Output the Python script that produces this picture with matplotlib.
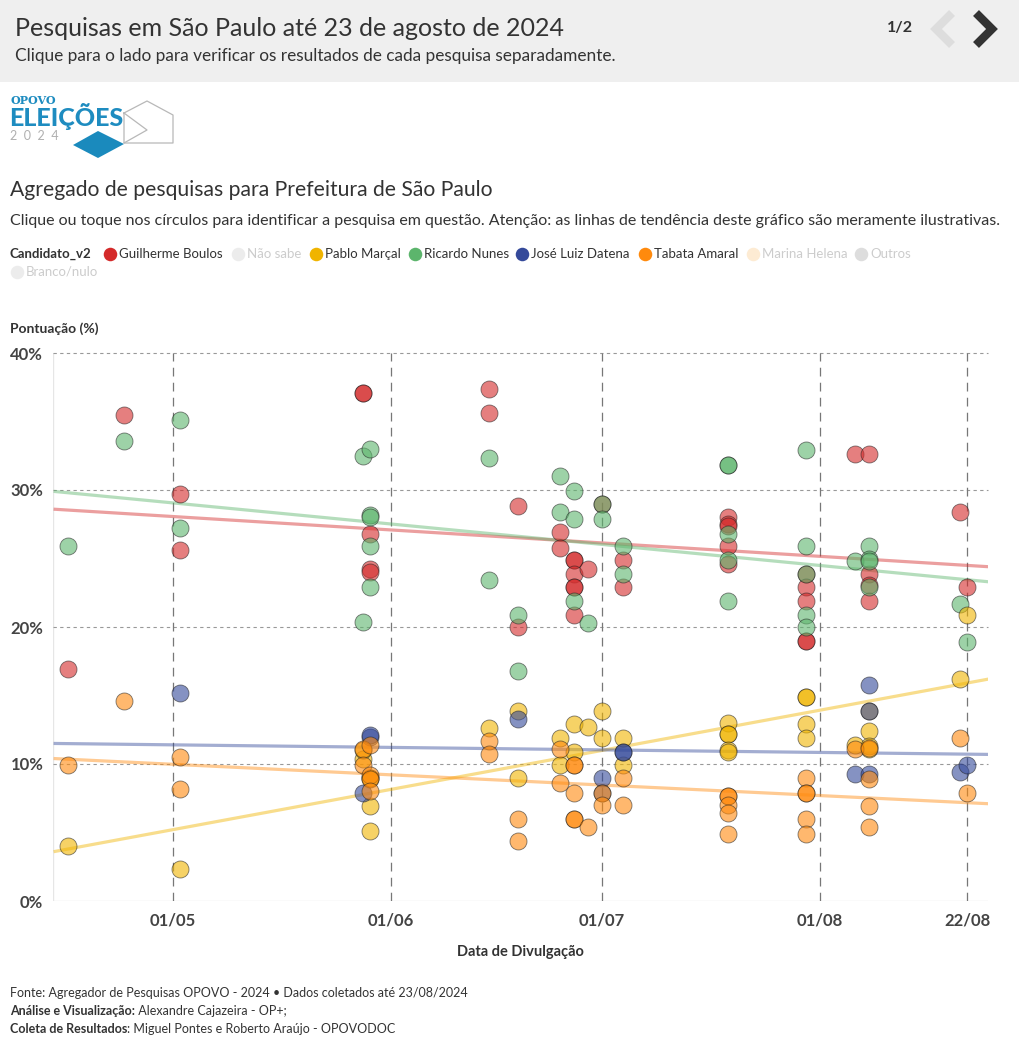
import numpy as np
import pandas as pd
import matplotlib
matplotlib.use("Agg")
import matplotlib.pyplot as plt
import matplotlib.dates as mdates
from matplotlib.patches import Polygon, Rectangle

plt.rcParams['font.family'] = ['Lato', 'DejaVu Sans']

# --- dados (data de divulgação MM-DD, pontuação %) ---
boulos_dates = ['04-16', '04-24', '05-02', '05-02', '05-28', '05-28', '05-29', '05-29', '05-29',
                '06-15', '06-15', '06-19', '06-19', '06-25', '06-25', '06-27', '06-27', '06-27',
                '06-27', '06-27', '06-27', '06-29', '07-01', '07-04', '07-04', '07-19', '07-19',
                '07-19', '07-19', '07-19', '07-30', '07-30', '07-30', '07-30', '07-30', '08-06',
                '08-08', '08-08', '08-08', '08-08', '08-21', '08-22']
boulos_vals = [16.9, 35.5, 29.7, 25.6, 37.1, 37.1, 26.8, 24.2, 24.0,
               37.4, 35.6, 28.8, 20.0, 26.9, 25.8, 24.9, 24.9, 23.9,
               22.9, 22.9, 20.9, 24.2, 29.0, 24.9, 22.9, 28.0, 27.5,
               27.4, 25.9, 24.6, 23.9, 22.9, 21.9, 19.0, 19.0, 32.6,
               32.6, 23.9, 23.1, 21.9, 28.4, 22.9]

nunes_dates = ['04-16', '04-24', '05-02', '05-02', '05-28', '05-28', '05-29', '05-29', '05-29',
               '05-29', '05-29', '06-15', '06-15', '06-19', '06-19', '06-25', '06-25', '06-27',
               '06-27', '06-27', '06-29', '07-01', '07-01', '07-04', '07-04', '07-19', '07-19',
               '07-19', '07-19', '07-19', '07-30', '07-30', '07-30', '07-30', '07-30', '08-06',
               '08-08', '08-08', '08-08', '08-08', '08-21', '08-22']
nunes_vals = [25.9, 33.6, 35.1, 27.2, 32.5, 20.4, 33.0, 28.2, 28.0,
              25.9, 22.9, 32.3, 23.4, 20.9, 16.8, 31.0, 28.4, 29.9,
              27.9, 21.9, 20.3, 29.0, 27.9, 25.9, 23.9, 31.8, 31.8,
              26.8, 24.9, 21.9, 32.9, 25.9, 23.9, 20.9, 20.0, 24.8,
              25.9, 25.0, 24.8, 22.9, 21.7, 18.9]

marcal_dates = ['04-16', '05-02', '05-28', '05-28', '05-29', '05-29', '05-29', '05-29', '06-15',
                '06-19', '06-19', '06-25', '06-25', '06-27', '06-27', '06-29', '07-01', '07-01',
                '07-04', '07-04', '07-19', '07-19', '07-19', '07-19', '07-19', '07-30', '07-30',
                '07-30', '07-30', '08-06', '08-08', '08-08', '08-08', '08-08', '08-21', '08-22']
marcal_vals = [4.0, 2.3, 10.4, 11.0, 9.0, 9.0, 6.9, 5.1, 12.6,
               13.9, 9.0, 11.9, 9.9, 12.9, 10.9, 12.7, 13.9, 11.9,
               11.9, 9.9, 13.0, 12.2, 12.2, 11.0, 10.9, 14.9, 14.9,
               12.9, 11.9, 11.4, 13.9, 12.4, 11.3, 11.1, 16.2, 20.9]

datena_dates = ['05-02', '05-28', '05-29', '05-29', '06-19', '07-01', '07-01', '07-04', '07-04',
                '08-06', '08-08', '08-08', '08-08', '08-21', '08-22']
datena_vals = [15.2, 7.9, 12.0, 12.1, 13.3, 9.0, 7.9, 10.9, 10.9,
               9.3, 15.8, 13.9, 9.3, 9.4, 9.9]

tabata_dates = ['04-16', '04-24', '05-02', '05-02', '05-28', '05-28', '05-29', '05-29', '05-29',
                '05-29', '06-15', '06-15', '06-19', '06-19', '06-25', '06-25', '06-27', '06-27',
                '06-27', '06-27', '06-27', '06-29', '07-01', '07-01', '07-04', '07-04', '07-19',
                '07-19', '07-19', '07-19', '07-19', '07-30', '07-30', '07-30', '07-30', '07-30',
                '08-06', '08-08', '08-08', '08-08', '08-08', '08-21', '08-22']
tabata_vals = [9.9, 14.6, 10.5, 8.2, 11.1, 9.9, 11.4, 9.2, 8.9,
               8.0, 11.7, 10.7, 6.0, 4.4, 11.1, 8.6, 9.9, 9.9,
               7.9, 6.0, 6.0, 5.4, 7.9, 7.0, 9.0, 7.0, 7.7,
               7.7, 7.0, 6.4, 4.9, 9.0, 7.9, 7.9, 6.0, 4.9,
               11.1, 11.2, 8.9, 6.9, 5.4, 11.9, 7.9]

# linhas de tendência (valor no início e no fim do eixo)
trend_dates = ['2024-04-14', '2024-08-25']
boulos_trend = [28.6, 24.4]
nunes_trend = [29.9, 23.3]
marcal_trend = [3.6, 16.2]
datena_trend = [11.5, 10.7]
tabata_trend = [10.4, 7.1]

tick_dates = ['2024-05-01', '2024-06-01', '2024-07-01', '2024-08-01', '2024-08-22']
tick_labels = ['01/05', '01/06', '01/07', '01/08', '22/08']

legend_names = ['Guilherme Boulos', 'Não sabe', 'Pablo Marçal', 'Ricardo Nunes', 'José Luiz Datena',
                'Tabata Amaral', 'Marina Helena', 'Outros', 'Branco/nulo']

RED, YEL, GRN, BLU, ORG = '#d42a2a', '#f0b400', '#5cb56c', '#34499a', '#ff8a0d'

series = [
    (boulos_dates, boulos_vals, boulos_trend, RED),
    (nunes_dates, nunes_vals, nunes_trend, GRN),
    (marcal_dates, marcal_vals, marcal_trend, YEL),
    (datena_dates, datena_vals, datena_trend, BLU),
    (tabata_dates, tabata_vals, tabata_trend, ORG),
]


def to_num(md):
    return mdates.date2num(pd.to_datetime(['2024-' + d for d in md]))


W, H = 1020, 1049
fig = plt.figure(figsize=(W / 100, H / 100), dpi=100)

# camada de fundo em pixels
ov = fig.add_axes([0, 0, 1, 1])
ov.set_xlim(0, W)
ov.set_ylim(H, 0)
ov.axis('off')

ov.add_patch(Rectangle((0, 0), W, 82, color='#efefef', lw=0))
ov.text(15, 28, 'Pesquisas em São Paulo até 23 de agosto de 2024', fontsize=18,
        color='#333333', va='center', ha='left')
ov.text(15, 56, 'Clique para o lado para verificar os resultados de cada pesquisa separadamente.',
        fontsize=12.4, color='#333333', va='center', ha='left')
ov.text(900, 28, '1/2', fontsize=11.5, fontweight='bold', color='#333333', va='center', ha='center')
ov.plot([952, 936, 952], [13, 29, 45], color='#dddddd', lw=6, solid_capstyle='butt',
        solid_joinstyle='miter')
ov.plot([976, 992, 976], [13, 29, 45], color='#333333', lw=6, solid_capstyle='butt',
        solid_joinstyle='miter')

# logo
ov.text(11, 100, 'OPOVO', fontsize=8, fontweight='bold', family='DejaVu Serif',
        color='#1e8cc0', va='center')
ov.text(9, 117, 'ELEIÇÕES', fontsize=18, fontweight='black', color='#1e8cc0', va='center')
ov.text(10, 136, '2  0  2  4', fontsize=9, color='#b0b0b0', va='center')
ov.plot([124, 147, 173, 173, 124, 124], [113, 101, 115, 143, 143, 113], color='#b8b8b8', lw=0.9)
ov.plot([124, 147, 124], [113, 130, 143], color='#b8b8b8', lw=0.9)
ov.add_patch(Polygon([(98, 131), (124, 144), (98, 158), (73, 145)], closed=True,
                     color='#1a8abd', lw=0))

ov.text(10, 190, 'Agregado de pesquisas para Prefeitura de São Paulo', fontsize=15.2,
        color='#333333', va='center')
ov.text(10, 221, 'Clique ou toque nos círculos para identificar a pesquisa em questão. '
        'Atenção: as linhas de tendência deste gráfico são meramente ilustrativas.',
        fontsize=11.5, color='#333333', va='center')

# legenda
ov.text(10, 254, 'Candidato_v2', fontsize=9.5, fontweight='bold', color='#333333', va='center')
leg_colors = [RED, '#ececec', YEL, GRN, BLU, ORG, '#fdebd3', '#dddddd', '#ececec']
leg_active = [True, False, True, True, True, True, False, False, False]
leg_pos = [(110, 254), (238, 254), (316, 254), (415, 254), (522, 254), (645, 254),
           (753, 254), (861, 254), (17, 272)]
for name, c, act, (lx, ly) in zip(legend_names, leg_colors, leg_active, leg_pos):
    ov.scatter([lx], [ly], s=95, color=c, lw=0, zorder=3)
    ov.text(lx + 9, ly, name, fontsize=9.5, color='#333333' if act else '#cccccc', va='center')

ov.text(10, 329, 'Pontuação (%)', fontsize=10, fontweight='bold', color='#333333', va='center')
ov.text(520, 952, 'Data de Divulgação', fontsize=10.5, fontweight='bold', color='#333333',
        va='center', ha='center')

# gráfico principal
ax = fig.add_axes([53 / W, 1 - 901 / H, (988 - 53) / W, (901 - 353) / H])
x0 = mdates.date2num(pd.Timestamp('2024-04-13 22:00'))
x1 = mdates.date2num(pd.Timestamp('2024-08-24 22:00'))
ax.set_xlim(x0, x1)
ax.set_ylim(0, 40)
for s in ax.spines.values():
    s.set_visible(False)
ax.axvline(x0, color='#e6e6e6', lw=1, zorder=0)
ax.axhline(0, color='#e6e6e6', lw=1, zorder=0)
for v in [10, 20, 30, 40]:
    ax.axhline(v, color='#999999', lw=0.8, dashes=(3, 3), zorder=0, clip_on=False)
tnum = mdates.date2num(pd.to_datetime(tick_dates))
for t in tnum:
    ax.axvline(t, color='#777777', lw=0.9, dashes=(7, 5), zorder=0)

ax.set_yticks([0, 10, 20, 30, 40])
ax.set_yticklabels(['0%', '10%', '20%', '30%', '40%'])
ax.set_xticks(tnum)
ax.set_xticklabels(tick_labels)
ax.tick_params(length=0, labelsize=12, labelcolor='#444444')
for lab in ax.get_xticklabels() + ax.get_yticklabels():
    lab.set_fontweight('bold')
ax.tick_params(axis='y', pad=7)
ax.tick_params(axis='x', pad=8)

trend_x = mdates.date2num(pd.to_datetime(trend_dates))
for dates, vals, trend, c in series:
    ax.plot(trend_x, trend, color=c, lw=2.3, alpha=0.45, zorder=2, solid_capstyle='butt')

for dates, vals, trend, c in series:
    ax.scatter(to_num(dates), vals, s=150, color=c, alpha=0.6, edgecolors='#222222',
               linewidths=0.6, zorder=3, clip_on=False)

# rodapé
ov.text(10, 993, 'Fonte: Agregador de Pesquisas OPOVO - 2024 • Dados coletados até 23/08/2024',
        fontsize=9, color='#333333', va='center')

fig.canvas.draw()
rend = fig.canvas.get_renderer()


def two_part(y, bold, rest):
    t = ov.text(10, y, bold, fontsize=9, fontweight='bold', color='#333333', va='center')
    bb = t.get_window_extent(renderer=rend)
    ov.text(10 + bb.width * W / fig.bbox.width, y, rest, fontsize=9, color='#333333', va='center')


two_part(1011, 'Análise e Visualização:', ' Alexandre Cajazeira - OP+;')
two_part(1029, 'Coleta de Resultados', ': Miguel Pontes e Roberto Araújo - OPOVODOC')

fig.savefig('out.png', dpi=100)
